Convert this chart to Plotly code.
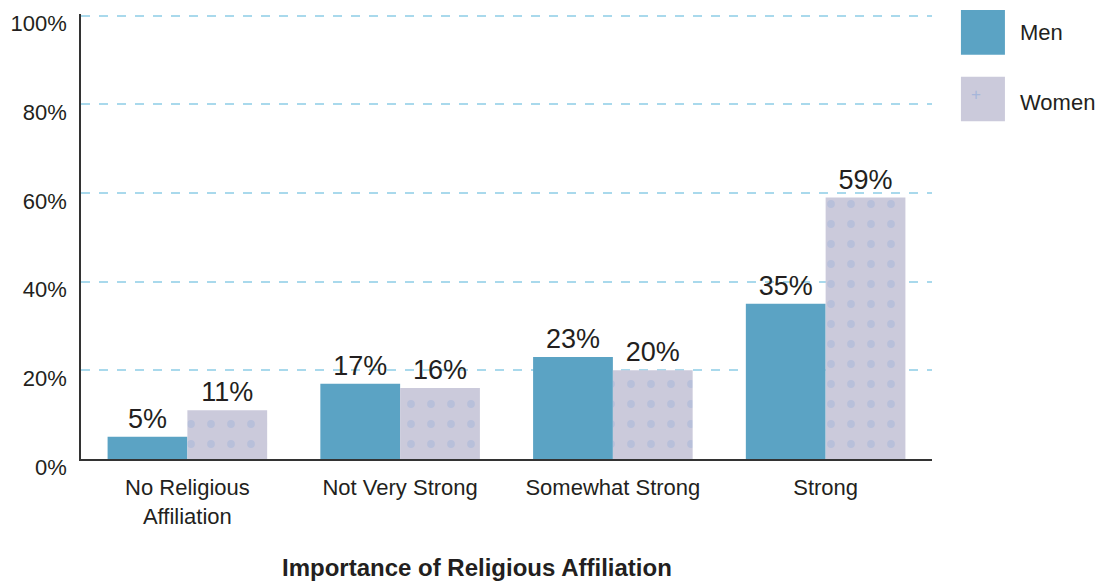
import plotly.graph_objects as go

# 데이터
categories = ["No Religious<br>Affiliation", "Not Very Strong", "Somewhat Strong", "Strong"]
men = [5, 17, 23, 35]
women = [11, 16, 20, 59]
y_ticks = [0, 20, 40, 60, 80, 100]
y_tick_text = ["0%", "20%", "40%", "60%", "80%", "100%"]

FONT = "Liberation Sans, Arial, sans-serif"
MEN_COLOR = "#5ba3c4"
WOMEN_BG = "#cbcadb"
WOMEN_FG = "#a6b6da"
TEXT = "#231f20"

fig = go.Figure()

fig.add_trace(go.Bar(
    x=categories, y=men, name="Men",
    marker=dict(color=MEN_COLOR, line=dict(width=0)),
    text=[f"{v}%" for v in men], textposition="outside",
    textfont=dict(size=27, color=TEXT), cliponaxis=False,
))
fig.add_trace(go.Bar(
    x=categories, y=women, name="Women",
    marker=dict(color=WOMEN_BG, line=dict(width=0),
                pattern=dict(shape=".", fgcolor=WOMEN_FG, bgcolor=WOMEN_BG,
                             size=20, solidity=0.12)),
    text=[f"{v}%" for v in women], textposition="outside",
    textfont=dict(size=27, color=TEXT), cliponaxis=False,
))

# 범례 (직접 그리기)
fig.add_shape(type="rect", xref="paper", yref="paper",
              x0=1.034, x1=1.0857, y0=0.9085, y1=1.0089,
              fillcolor=MEN_COLOR, line_width=0)
fig.add_shape(type="rect", xref="paper", yref="paper",
              x0=1.034, x1=1.0857, y0=0.759, y1=0.859,
              fillcolor=WOMEN_BG, line_width=0)
fig.add_annotation(x=1.0598, y=0.818, xref="paper", yref="paper", text="+",
                   showarrow=False, yanchor="middle",
                   font=dict(size=17, color=WOMEN_FG, family=FONT))
fig.add_annotation(x=1.101, y=0.9576, xref="paper", yref="paper", text="Men",
                   showarrow=False, xanchor="left", yanchor="middle",
                   font=dict(size=22, color=TEXT, family=FONT))
fig.add_annotation(x=1.101, y=0.801, xref="paper", yref="paper", text="Women",
                   showarrow=False, xanchor="left", yanchor="middle",
                   font=dict(size=22, color=TEXT, family=FONT))

# x축 제목
fig.add_annotation(x=0.4648, y=-0.243, xref="paper", yref="paper",
                   text="<b>Importance of Religious Affiliation</b>", showarrow=False,
                   yanchor="middle", font=dict(size=24, color=TEXT, family=FONT))

# 페이지 body 여백(8px)을 고려한 margin
fig.update_layout(
    width=1105, height=581,
    margin=dict(l=72, r=181, t=3, b=130),
    paper_bgcolor="white", plot_bgcolor="white",
    font=dict(family=FONT, color=TEXT),
    showlegend=False,
    barmode="group", bargap=0.25, bargroupgap=0,
    xaxis=dict(showline=True, linecolor="#333333", linewidth=1.5,
               ticks="", tickfont=dict(size=22, color=TEXT), showgrid=False,
               ticklabelstandoff=8),
    yaxis=dict(range=[0, 100.4], tickvals=y_ticks, ticktext=y_tick_text,
               showline=True, linecolor="#333333", linewidth=1.5, zeroline=False,
               showgrid=True, gridcolor="#a9d9ec", griddash="dash", gridwidth=1.5,
               ticks="", tickfont=dict(size=22, color=TEXT),
               ticklabelstandoff=8, ticklabelshift=8),
)

fig.write_html("out.html")
